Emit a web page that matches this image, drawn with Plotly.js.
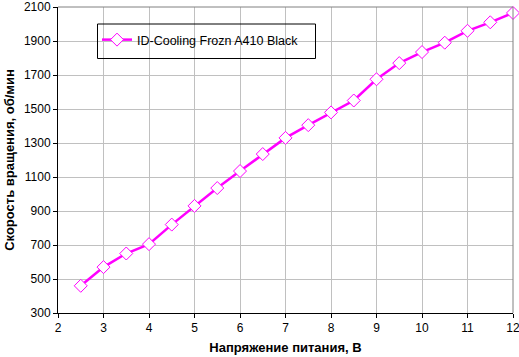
<!DOCTYPE html>
<html><head><meta charset="utf-8">
<script src="https://cdn.plot.ly/plotly-3.0.1.min.js"></script>
<style>html,body{margin:0;padding:0;background:#fff}#chart{width:519px;height:357px}</style>
</head><body><div id="chart"></div>
<script>
const voltage = [2.5,3,3.5,4,4.5,5,5.5,6,6.5,7,7.5,8,8.5,9,9.5,10,10.5,11,11.5,12];
const rpm = [460,570,650,705,820,930,1035,1135,1235,1330,1405,1480,1550,1675,1770,1835,1890,1960,2010,2065];
const seriesName = 'ID-Cooling Frozn A410 Black';
const xTitle = 'Напряжение питания, В';
const yTitle = 'Скорость вращения, об/мин';
const xTicks = [2,3,4,5,6,7,8,9,10,11,12];
const yTicks = [300,500,700,900,1100,1300,1500,1700,1900,2100];

const trace = {
  x: voltage, y: rpm, name: seriesName, type: 'scatter', mode: 'lines+markers',
  line: {color: '#ff00ff', width: 2.5},
  marker: {symbol: 'diamond', size: 10, color: '#ffffff', line: {color: '#ff00ff', width: 1}},
  showlegend: true, cliponaxis: false
};
const fam = 'Liberation Sans, Arial, sans-serif';
const W = 519, H = 357, ml = 58, mr = 6, mt = 7, mb = 44;
const pw = W - ml - mr, ph = H - mt - mb;
const px = v => (v - ml) / pw, py = v => 1 - (v - mt) / ph;
const layout = {
  width: W, height: H,
  margin: {l: ml, r: mr, t: mt, b: mb},
  paper_bgcolor: '#fff', plot_bgcolor: '#fff',
  font: {family: fam, size: 12, color: '#000'},
  showlegend: true,
  legend: {x: px(97), y: py(25), xanchor: 'left', yanchor: 'top', bgcolor: 'rgba(0,0,0,0)', borderwidth: 0,
    font: {family: fam, size: 12.5, color: '#000'}},
  xaxis: {
    range: [1.9999, 12.0001], tickvals: xTicks, ticktext: xTicks.map(String), showgrid: true, gridcolor: '#c0c0c0', gridwidth: 1,
    showline: true, linecolor: '#000', linewidth: 1, ticks: 'outside', ticklen: 4, tickcolor: '#000',
    zeroline: false, ticklabeloverflow: 'allow',
    title: {text: '<b>' + xTitle + '</b>', font: {family: fam, size: 13, color: '#000'}, standoff: 8}
  },
  yaxis: {
    range: [299.98, 2100.02], tickvals: yTicks, ticktext: yTicks.map(String), showgrid: true, gridcolor: '#c0c0c0', gridwidth: 1,
    showline: true, linecolor: '#000', linewidth: 1, ticks: 'outside', ticklen: 4, tickcolor: '#000',
    zeroline: false, ticklabeloverflow: 'allow',
    title: {text: '<b>' + yTitle + '</b>', font: {family: fam, size: 13, color: '#000'}, standoff: 6}
  },
  shapes: [
    {type: 'rect', xref: 'paper', yref: 'paper', x0: px(97.5), x1: px(315.5), y0: py(58.5), y1: py(24), layer: 'below',
      fillcolor: '#ffffff', line: {width: 0}},
    {type: 'line', xref: 'paper', yref: 'paper', x0: 0, x1: 1, y0: 1, y1: 1, line: {color: '#808080', width: 1}},
    {type: 'line', xref: 'paper', yref: 'paper', x0: 1, x1: 1, y0: 0, y1: 1, line: {color: '#808080', width: 1}},
    {type: 'rect', xref: 'paper', yref: 'paper', x0: px(97.5), x1: px(315.5), y0: py(58.5), y1: py(24), layer: 'above',
      fillcolor: 'rgba(0,0,0,0)', line: {color: '#000', width: 1}}
  ]
};
Plotly.newPlot('chart', [trace], layout, {displayModeBar: false, staticPlot: true});
</script></body></html>
